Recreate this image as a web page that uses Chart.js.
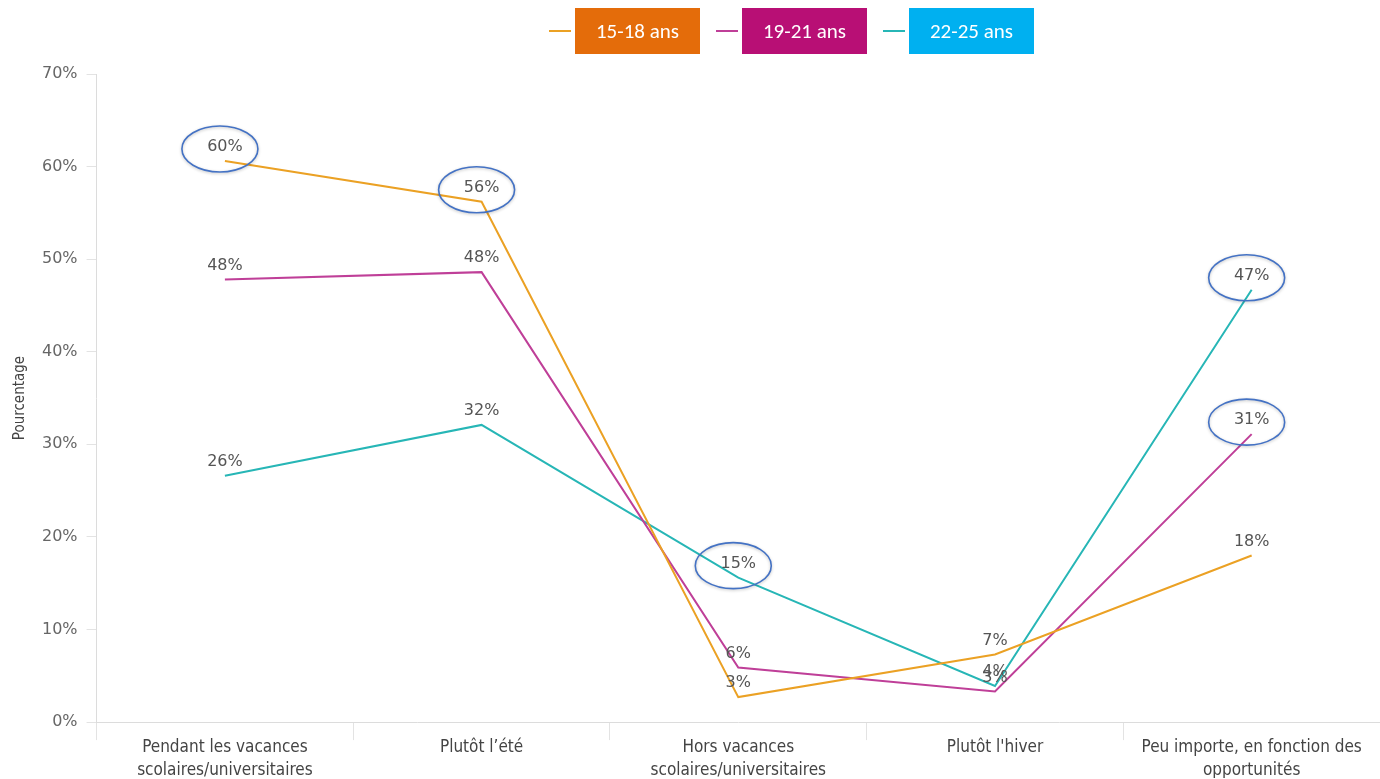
<!DOCTYPE html>
<html>
<head>
<meta charset="utf-8">
<script src="https://cdn.jsdelivr.net/npm/chart.js@4"></script>
<style>
  html, body { margin: 0; padding: 0; background: #fff; }
  #wrap { position: relative; width: 1380px; height: 779px; }
  #legend { position: absolute; top: 8px; left: 549px; display: flex; align-items: center; font-family: Carlito, Calibri, Lato, "Open Sans", sans-serif; }
  .item { display: flex; align-items: center; margin-right: 16px; }
  .swatch { width: 22px; height: 2px; margin-right: 4px; }
  .box { width: 125px; height: 46px; color: #fff; font-size: 21px; display: flex; align-items: center; justify-content: center; }
</style>
</head>
<body>
<div id="wrap">
  <canvas id="chart" width="1380" height="779"></canvas>
  <div id="legend"></div>
</div>
<script>
// categories and series values
const categories = [
  ["Pendant les vacances", "scolaires/universitaires"],
  "Plutôt l’été",
  ["Hors vacances", "scolaires/universitaires"],
  "Plutôt l'hiver",
  ["Peu importe, en fonction des", "opportunités"]
];
const seriesNames = ["15-18 ans", "19-21 ans", "22-25 ans"];
const values1518 = [60.6, 56.2, 2.7, 7.3, 18.0];
const values1921 = [47.8, 48.6, 5.9, 3.3, 31.1];
const values2225 = [26.6, 32.1, 15.6, 3.9, 46.7];
const labels1518 = ["60%", "56%", "3%", "7%", "18%"];
const labels1921 = ["48%", "48%", "6%", "3%", "31%"];
const labels2225 = ["26%", "32%", "15%", "4%", "47%"];
const lineColors = ["#EBA124", "#BF3F98", "#27B6B6"];
const boxColors = ["#E46C0A", "#B80F75", "#00B0F0"];
// points circled in the original: [series, index]
const circled = [[0, 0], [0, 1], [2, 2], [2, 4], [1, 4]];

const pointLabels = [labels1518, labels1921, labels2225];

// html legend
const legend = document.getElementById("legend");
seriesNames.forEach((name, i) => {
  const item = document.createElement("div");
  item.className = "item";
  item.innerHTML = '<div class="swatch" style="background:' + lineColors[i] + '"></div>' +
    '<div class="box" style="background:' + boxColors[i] + '">' + name + '</div>';
  legend.appendChild(item);
});

const labelPlugin = {
  id: "pointLabels",
  afterDatasetsDraw(chart) {
    const ctx = chart.ctx;
    ctx.save();
    ctx.font = "16px 'DejaVu Sans', Verdana, sans-serif";
    ctx.fillStyle = "#555";
    ctx.textAlign = "center";
    ctx.textBaseline = "middle";
    chart.data.datasets.forEach((ds, di) => {
      const meta = chart.getDatasetMeta(di);
      meta.data.forEach((pt, i) => {
        ctx.fillText(pointLabels[di][i], pt.x, pt.y - 14);
      });
    });
    // blue ellipses
    ctx.strokeStyle = "#4472C4";
    ctx.lineWidth = 1.6;
    ctx.shadowColor = "rgba(0,0,0,0.25)";
    ctx.shadowBlur = 3;
    ctx.shadowOffsetY = 1;
    circled.forEach(([di, i]) => {
      const pt = chart.getDatasetMeta(di).data[i];
      ctx.beginPath();
      ctx.ellipse(pt.x - 5, pt.y - 12, 38, 23, 0, 0, Math.PI * 2);
      ctx.stroke();
    });
    ctx.restore();
  }
};

function makeSet(label, data, color) {
  return {
    label: label,
    data: data,
    borderColor: color,
    backgroundColor: color,
    borderWidth: 2,
    pointRadius: 0,
    tension: 0
  };
}

new Chart(document.getElementById("chart").getContext("2d"), {
  type: "line",
  data: {
    labels: categories,
    datasets: [
      makeSet(seriesNames[0], values1518, lineColors[0]),
      makeSet(seriesNames[1], values1921, lineColors[1]),
      makeSet(seriesNames[2], values2225, lineColors[2])
    ]
  },
  options: {
    responsive: false,
    animation: false,
    events: [],
    layout: { padding: { top: 74, right: 0, bottom: 1, left: 7 } },
    plugins: { legend: { display: false }, tooltip: { enabled: false } },
    scales: {
      x: {
        offset: true,
        grid: { offset: true, drawOnChartArea: false, tickLength: 18, color: "#e3e3e3" },
        border: { color: "#dcdcdc" },
        ticks: {
          color: "#444",
          padding: -4,
          maxRotation: 0,
          font: { family: "'DejaVu Sans Condensed', 'DejaVu Sans', sans-serif", size: 17, lineHeight: 1.35 }
        }
      },
      y: {
        min: 0,
        max: 70,
        grid: { drawOnChartArea: false, tickLength: 10, color: "#e3e3e3" },
        border: { color: "#dcdcdc" },
        title: {
          display: true,
          text: "Pourcentage",
          color: "#444",
          font: { family: "'DejaVu Sans Condensed', 'DejaVu Sans', sans-serif", size: 15 }
        },
        ticks: {
          stepSize: 10,
          color: "#666",
          padding: 9,
          font: { family: "'DejaVu Sans', Verdana, sans-serif", size: 16 },
          callback: v => v + "%"
        }
      }
    }
  },
  plugins: [labelPlugin]
});
</script>
</body>
</html>
